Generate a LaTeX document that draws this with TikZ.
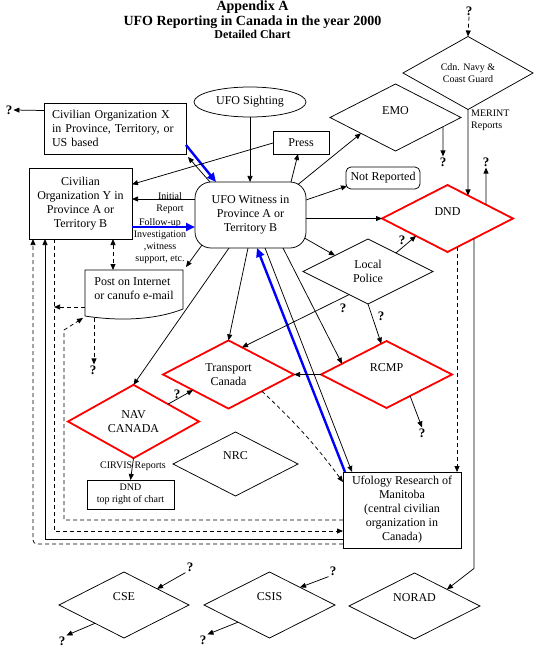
\documentclass[tikz,border=0pt]{standalone}
\usepackage{fontspec}
\setmainfont{Liberation Serif}
\usetikzlibrary{shapes.geometric,arrows.meta,calc}
\begin{document}
\begin{tikzpicture}[x=1pt,y=-1pt,
  every node/.style={font=\fontsize{12}{14}\selectfont},
  ln/.style={line width=0.75pt},
  arr/.style={ln,-{Triangle[length=6pt,width=5pt]}},
  blu/.style={draw=blue,line width=2.4pt,-{Triangle[length=9pt,width=8pt]}},
  dsh/.style={dash pattern=on 4pt off 3pt},
  box/.style={draw,line width=0.75pt,inner sep=0pt,outer sep=0pt},
  diam/.style={draw,diamond,line width=0.75pt,inner sep=0pt,outer sep=0pt,minimum width=131pt,minimum height=67pt,align=center},
  reddiam/.style={diam,draw=red,line width=1.8pt},
  qm/.style={font=\fontsize{13}{13}\selectfont\bfseries,inner sep=1pt},
  sm/.style={font=\fontsize{10}{12}\selectfont},
]
\useasboundingbox (0,0) rectangle (548,660);

% title
\node[font=\fontsize{14}{16}\selectfont\bfseries,anchor=base] (t1) at (252.5,10.5) {Appendix A};
\node[font=\fontsize{14}{16}\selectfont\bfseries,anchor=base] (t2) at (252.5,25.5) {UFO Reporting in Canada in the year 2000};
\node[font=\fontsize{12}{14}\selectfont\bfseries,anchor=base] (t3) at (252.5,38.5) {Detailed Chart};

% nodes
\node[draw,ellipse,line width=0.75pt,minimum width=112pt,minimum height=30pt,inner sep=0pt] (sight) at (250,102) {UFO Sighting};
\node[box,minimum height=51pt,text width=126pt,inner xsep=8pt,align=left] (civx) at (115,128.5) {Civilian Organization X\\in Province, Territory, or\\US based};
\node[box,minimum width=103pt,minimum height=71pt,align=center] (civy) at (80.5,203.5) {Civilian\\Organization Y in\\Province A or\\Territory B};
\node[box,rounded corners=16pt,minimum width=111pt,minimum height=66pt,align=center] (wit) at (250.5,215) {UFO Witness in\\Province A or\\Territory B};
\node[box,minimum width=56pt,minimum height=23pt] (press) at (301,142.5) {Press};
\node[box,rounded corners=5pt,minimum width=74pt,minimum height=22pt] (notrep) at (383,178) {Not Reported};
\node[diam,label={[yshift=7pt]center:EMO}] (emo) at (395.5,117.5) {};
\node[diam,minimum width=130pt,minimum height=64pt,font=\fontsize{10}{11.5}\selectfont] (navy) at (468,73) {Cdn. Navy \&\\Coast Guard};
\node[reddiam,label={[yshift=7pt]center:DND}] (dnd) at (447.5,218.5) {};
\node[diam,minimum width=130pt,minimum height=65pt] (lp) at (368,271.5) {Local\\Police};
\node[reddiam,label={[yshift=7pt]center:RCMP}] (rcmp) at (386.5,374.5) {};
\node[reddiam] (tc) at (228.5,374.5) {Transport\\Canada};
\node[reddiam] (nav) at (133.5,421.5) {NAV\\CANADA};
\node[diam,minimum width=125pt,minimum height=64pt,label={[yshift=8pt]center:NRC}] (nrc) at (235.5,464) {};
\node[box,minimum width=87pt,minimum height=29pt,align=center,font=\fontsize{10}{12}\selectfont] (dndbox) at (130.5,494.5) {DND\\top right of chart};
\node[box,minimum width=118pt,minimum height=76pt,align=center] (ufo) at (402,510) {Ufology Research of\\Manitoba\\(central civilian\\organization in\\Canada)};
\node[diam,minimum height=66pt,label={[yshift=8.5pt]center:NORAD}] (norad) at (414.5,606) {};
\node[diam,minimum width=130pt,minimum height=66pt,label={[yshift=8.5pt]center:CSE}] (cse) at (124,605) {};
\node[diam,minimum height=66pt,label={[yshift=8.5pt]center:CSIS}] (csis) at (269.5,605) {};

% post on internet (document shape)
\node[inner sep=0pt,outer sep=0pt,minimum width=98pt,minimum height=47pt,label={[align=left,yshift=5pt]center:{Post on Internet\\or canufo e-mail}}] (post) at (134,293.5) {};
\draw[ln] (post.north west) -- (post.north east) -- ($(post.south east)+(0,-8)$) .. controls ($(post.south east)+(-33,5)$) and ($(post.south east)+(-73,3)$) .. ($(post.south west)+(0,-1)$) -- cycle;

% labels
\node[sm,align=center,anchor=north,inner sep=0pt] (lbinit) at (170,192) {Initial\\Report};
\node[sm,align=center,anchor=north,inner sep=0pt] (lbfol) at (160,218) {Follow-up\\Investigation\\,witness\\support, etc.};
\node[sm,align=left,anchor=north west,inner sep=0pt] (lbmer) at (471,109.5) {MERINT\\Reports};
\node[sm,inner sep=0pt] (lbcir) at (133,466) {CIRVIS Reports};

% question marks
\node[qm] (qx) at (9,110) {?};
\node[qm] (qnavy) at (469,11) {?};
\node[qm] (qemo) at (443,162) {?};
\node[qm] (qdnd) at (486,162) {?};
\node[qm] (qlp) at (402,240) {?};
\node[qm] (qlprc) at (381,316) {?};
\node[qm] (qlptc) at (343,308) {?};
\node[qm] (qrcmp) at (422,433) {?};
\node[qm] (qnav) at (177,394) {?};
\node[qm] (qpost) at (93,370) {?};
\node[qm] (qcse1) at (190,567) {?};
\node[qm] (qcse2) at (62,641) {?};
\node[qm] (qcsis1) at (333,571) {?};
\node[qm] (qcsis2) at (203,640) {?};

% helper coordinates
\coordinate (wI) at ($(wit.west)+(0,-16)$);
\coordinate (cF) at ($(civy.east)+(0,23.5)$);
\coordinate (dn1) at ($(dnd.south)!0.405!(dnd.east)$);
\coordinate (dd1) at ($(dnd.south)!0.145!(dnd.east)$);
\coordinate (cy1) at ($(civy.south west)+(25,0)$);
\coordinate (cy2) at ($(civy.south west)+(16,0)$);
\coordinate (cy3) at ($(civy.south west)+(4,0)$);
\coordinate (u1) at ($(ufo.south west)+(0,-28)$);
\coordinate (u2) at ($(ufo.south west)+(0,-17)$);
\coordinate (u3) at ($(ufo.south west)+(0,-9)$);
\coordinate (u4) at ($(ufo.south west)+(0,-4)$);
\coordinate (p1) at ($(post.south west)+(-21,13)$);
\coordinate (pl) at ($(post.south west)+(0,-10)$);
\coordinate (pb) at ($(post.south west)+(9,0.5)$);
\coordinate (cp) at ($(post.north west)+(28,0)$);

% connectors
\draw[arr] (sight.south) -- (sight.south |- wit.north);
\draw[arr] ($(civx.north west)+(0,7.5)$) -- (qx.east);
\draw[blu] ($(civx.south east)+(0,-9)$) -- ($(wit.north west)+(21,0)$);
\draw[arr] ($(wit.north west)+(15,0)$) -- ($(civx.south east)+(2,3)$);
\draw[arr] ($(press.west)+(0,0.5)$) -- ($(civy.north east)!0.23!(civy.south east)$);
\draw[arr] ($(wit.north west)+(96,0)$) -- ($(press.south)+(-3,0)$);
\draw[arr] ($(wit.north east)+(-8,2.5)$) -- ($(emo.south)!0.527!(emo.west)$);
\draw[arr] ($(wit.east)+(0,-15)$) -- ($(notrep.south west)+(1,-3)$);
\draw[arr] (wit.east |- dnd.west) -- (dnd.west);
\draw[arr] ($(wit.east)+(-1.5,23)$) -- ($(lp.north)!0.508!(lp.west)$);
\draw[arr] (wI) -- (wI -| civy.east);
\draw[blu] (cF) -- (cF -| wit.west);
\draw[arr] ($(wit.south west)+(7,-3)$) -- ($(post.north east)+(3,-3)$);
\draw[arr] ($(wit.south west)+(34,0)$) -- (nav.north);
\draw[arr] ($(wit.south west)+(53,0)$) -- (tc.north);
\draw[blu] ($(ufo.north west)+(2,0)$) -- ($(wit.south west)+(62,0)$);
\draw[arr] ($(wit.south west)+(70,0)$) -- ($(ufo.north west)+(9,0)$);
\draw[arr] ($(wit.south west)+(88,0)$) -- ($(rcmp.north)!0.68!(rcmp.west)$);

\draw[arr] ($(lp.north)!0.43!(lp.east)$) -- ($(dnd.south)!0.48!(dnd.west)$);
\draw[arr] (lp.south) -- ($(rcmp.north)!0.08!(rcmp.west)$);
\draw[arr] ($(lp.south)!0.29!(lp.west)$) -- ($(tc.north)!0.206!(tc.east)$);
\draw[arr] (rcmp.west) -- (tc.east);
\draw[arr] ($(rcmp.south)!0.36!(rcmp.east)$) -- (qrcmp.north);
\draw[arr] ($(nav.north)!0.527!(nav.east)$) -- ($(tc.south)!0.542!(tc.west)$);
\draw[arr] (nav.south) -- (dndbox.north);
\draw[arr,dsh] ($(tc.south)!0.51!(tc.east)$) to[bend left=5] ($(ufo.north west)+(0,10)$);

\draw[arr,dsh] (qnavy.south) -- (navy.north);
\draw[arr] (navy.south) -- ($(dnd.north)!0.313!(dnd.east)$);
\draw[arr] ($(emo.south)!0.725!(emo.east)$) -- (qemo.north);
\draw[arr] ($(dnd.north)!0.588!(dnd.east)$) -- (qdnd.south);
\draw[arr] (dn1) -- ($(dn1)+(0,330)$) -- ($(norad.north)!0.496!(norad.east)$);
\draw[arr,dsh] (dd1) -- (dd1 |- ufo.north);

\draw[arr,dsh] (cy1) |- (u2);
\draw[arr] (u3) -| (cy2);
\draw[arr,dsh,rounded corners=4pt] (u4) -| (cy3);
\draw[arr,dsh] (u1) -| (p1) -- ($(post.south west)+(-2,1)$);
\draw[arr,dsh] (pl) -- (pl -| cy1);
\draw[arr,dsh] (pb) -- (pb |- qpost.north);
\draw[ln,dsh,{Triangle[length=6pt,width=5pt]}-{Triangle[length=6pt,width=5pt]}] (cp |- civy.south) -- (cp);

\draw[arr] (qcse1.south west) -- ($(cse.north)!0.508!(cse.east)$);
\draw[arr] ($(cse.south)!0.446!(cse.west)$) -- (qcse2.north east);
\draw[arr] (qcsis1.south west) -- ($(csis.north)!0.466!(csis.east)$);
\draw[arr] ($(csis.south)!0.48!(csis.west)$) -- (qcsis2.north east);
\end{tikzpicture}
\end{document}
